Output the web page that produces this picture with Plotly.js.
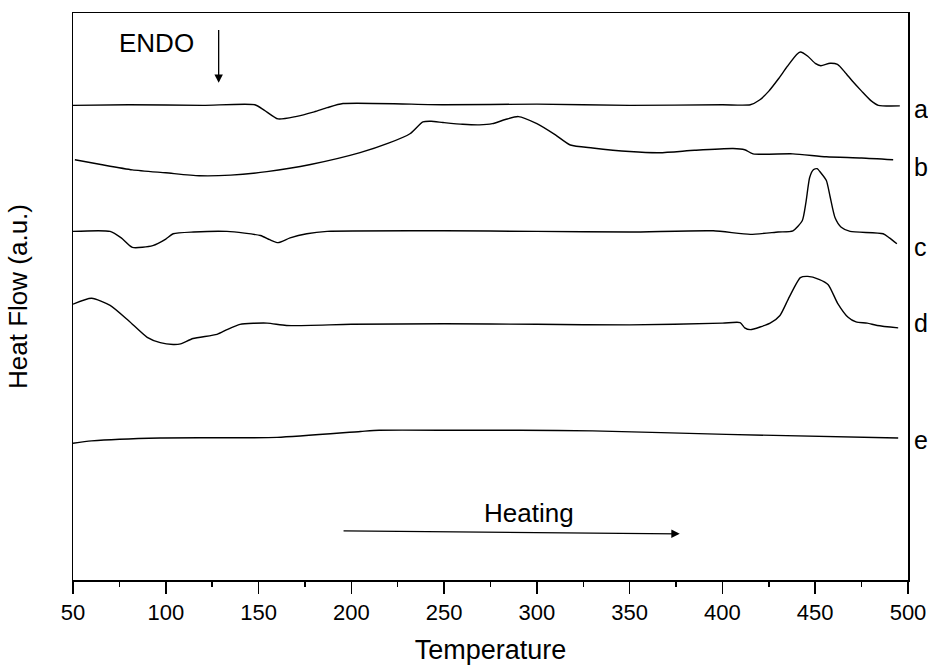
<!DOCTYPE html>
<html>
<head>
<meta charset="utf-8">
<script src="https://cdn.plot.ly/plotly-3.0.1.min.js"></script>
<style>html,body{margin:0;padding:0;background:#fff;}#chart{width:928px;height:669px;}</style>
</head>
<body>
<div id="chart"></div>
<script>
// Temperature / heat-flow readings (arbitrary units) for the five DSC curves
const tempA = [50, 80, 120, 148, 153, 160.5, 170, 180, 187, 195.5, 250, 300, 350, 400, 415, 420, 425, 430, 435, 440, 442, 446, 450, 453, 458, 462, 466, 470, 475, 480, 484, 495.6];
const flowA = [84.4, 84.5, 84.4, 84.5, 83.6, 82.1, 82.5, 83.3, 84.0, 84.7, 84.5, 84.6, 84.4, 84.5, 84.5, 85.3, 86.8, 88.8, 91.0, 93.0, 93.4, 92.7, 91.5, 91.1, 91.5, 91.3, 90.0, 88.5, 86.8, 85.2, 84.4, 84.3];

const tempB = [51, 65, 82, 100, 118, 135, 154.5, 178, 204.7, 220, 231.6, 238.6, 243, 249.4, 260, 269, 276, 283, 290, 300, 310, 318, 330, 350, 366, 385, 405.7, 412, 416.5, 438, 456, 475, 492];
const flowB = [75.2, 74.4, 73.5, 73.0, 72.5, 72.6, 73.2, 74.4, 76.4, 78.0, 79.6, 81.6, 81.7, 81.5, 81.2, 81.1, 81.3, 82.0, 82.5, 81.3, 79.4, 77.7, 77.2, 76.6, 76.4, 76.8, 77.1, 76.9, 76.2, 76.2, 75.7, 75.5, 75.2];

const tempC = [50, 70, 76, 82, 93, 100, 104, 115, 133, 151, 156, 160.5, 167, 176, 187, 250, 300, 350, 395, 415, 430, 438, 443, 445, 447, 449, 451, 453, 456, 458, 460.7, 464, 468.8, 486.6, 490, 494];
const flowC = [63.1, 63.1, 62.0, 60.4, 60.7, 61.8, 62.7, 63.0, 63.1, 62.4, 61.7, 61.2, 62.0, 62.7, 63.1, 63.2, 63.1, 63.0, 63.2, 62.6, 63.0, 63.2, 64.9, 68.0, 72.2, 73.5, 73.7, 73.0, 71.7, 69.0, 65.4, 63.8, 63.1, 62.7, 62.0, 61.0];

const tempD = [50, 60, 70, 80, 90, 97, 104, 108, 114.7, 127.6, 133, 140, 154.6, 165, 200, 250, 300, 350, 400, 409.5, 412, 415, 425.7, 431, 436, 442, 446, 452, 457, 462, 467.7, 472, 478, 483.4, 494.7];
const flowD = [50.8, 51.8, 50.6, 48.0, 45.2, 44.3, 44.0, 44.1, 45.0, 45.7, 46.5, 47.4, 47.6, 47.2, 47.4, 47.5, 47.4, 47.3, 47.6, 47.7, 46.8, 46.5, 47.6, 48.9, 52.0, 55.3, 55.5, 55.0, 54.1, 51.0, 48.6, 47.8, 47.6, 47.2, 46.8];

const tempE = [50, 60, 97, 160, 205, 215, 258, 291, 330, 402, 494.7];
const flowE = [27.3, 27.7, 28.2, 28.3, 29.3, 29.5, 29.5, 29.5, 29.4, 28.8, 28.2];

const curveLabels = ['a', 'b', 'c', 'd', 'e'];
const labelLevels = [83.8, 74.0, 60.4, 47.7, 27.8];
const xTickVals = [50, 100, 150, 200, 250, 300, 350, 400, 450, 500];

const FONT = 'Liberation Sans, Arial, sans-serif';
const series = [[tempA, flowA], [tempB, flowB], [tempC, flowC], [tempD, flowD], [tempE, flowE]];
const traces = series.map((s, i) => ({
  x: s[0], y: s[1], type: 'scatter', mode: 'lines', name: curveLabels[i],
  line: {color: '#000', width: 1.4, shape: 'spline', smoothing: 0.6},
  hoverinfo: 'skip'
}));

const annotations = curveLabels.map((lab, i) => ({
  text: lab, xref: 'paper', yref: 'y', x: 1.005, y: labelLevels[i],
  xanchor: 'left', yanchor: 'middle', showarrow: false,
  font: {family: FONT, size: 25, color: '#000'}
}));
annotations.push(
  {text: 'ENDO', xref: 'x', yref: 'y', x: 95, y: 94.9, showarrow: false,
   font: {family: FONT, size: 26, color: '#000'}},
  {text: '', xref: 'x', yref: 'y', x: 128.5, y: 88.2, axref: 'x', ayref: 'y', ax: 128.5, ay: 97.4,
   showarrow: true, arrowhead: 2, arrowsize: 1.3, arrowwidth: 1.3, arrowcolor: '#000'},
  {text: 'Heating', xref: 'x', yref: 'y', x: 296, y: 15.5, showarrow: false,
   font: {family: FONT, size: 26, color: '#000'}},
  {text: '', xref: 'x', yref: 'y', x: 377, y: 12.0, axref: 'x', ayref: 'y', ax: 195, ay: 12.5,
   showarrow: true, arrowhead: 2, arrowsize: 1.3, arrowwidth: 1.3, arrowcolor: '#000'}
);

const layout = {
  width: 928, height: 669,
  margin: {l: 73, r: 20, t: 13, b: 89},
  paper_bgcolor: '#fff', plot_bgcolor: '#fff',
  showlegend: false,
  font: {family: FONT, color: '#000'},
  xaxis: {
    range: [50, 500], tickvals: xTickVals, ticktext: xTickVals.map(String),
    ticks: 'outside', ticklen: 12, tickwidth: 1.5, tickcolor: '#000',
    minor: {dtick: 25, ticks: 'outside', ticklen: 5, tickwidth: 1.5, tickcolor: '#000', showgrid: false},
    showline: true, linecolor: '#000', linewidth: 1.5, mirror: true,
    showgrid: false, zeroline: false,
    tickfont: {family: FONT, size: 22, color: '#000'},
    title: {text: 'Temperature', font: {family: FONT, size: 27, color: '#000'}, standoff: 16}
  },
  yaxis: {
    range: [4.2, 100], showticklabels: false, ticks: '',
    showline: true, linecolor: '#000', linewidth: 1.5, mirror: true,
    showgrid: false, zeroline: false,
    title: {text: 'Heat Flow (a.u.)', font: {family: FONT, size: 26, color: '#000'}, standoff: 36}
  },
  annotations: annotations
};

Plotly.newPlot('chart', traces, layout, {staticPlot: true, displayModeBar: false});
</script>
</body>
</html>
